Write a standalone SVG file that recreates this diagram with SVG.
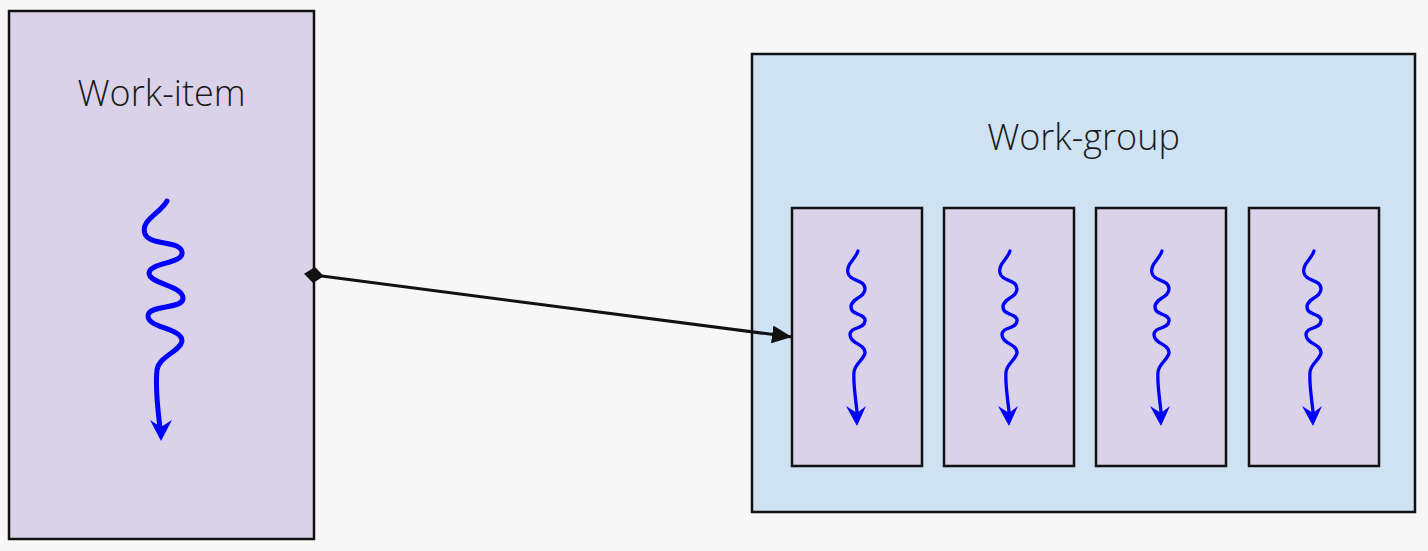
<svg xmlns="http://www.w3.org/2000/svg" width="1428" height="551" viewBox="0 0 1428 551">
<style>
.item{fill:#d9d2e9;stroke:#111;stroke-width:2.5}
.group{fill:#cfe2f3;stroke:#111;stroke-width:2.5}
.lbl{font-family:"Open Sans","Noto Sans","Liberation Sans",sans-serif;font-weight:300;font-size:36px;fill:#1a1a1a;text-anchor:middle}
.wave{fill:none;stroke:#0000ff;stroke-linecap:round;stroke-linejoin:round}
.big{stroke-width:5}
.small{stroke-width:3.3}
.conn{fill:none;stroke:#111;stroke-width:3}
</style>
<defs>
<marker id="arrowEnd" viewBox="0 0 20 18" refX="20" refY="9" markerWidth="20" markerHeight="18" markerUnits="userSpaceOnUse" orient="auto">
<path d="M0,0 L20,9 L0,18 Z" fill="#111"/>
</marker>
<marker id="diamond" viewBox="0 0 20 20" refX="10" refY="10" markerWidth="20" markerHeight="20" markerUnits="userSpaceOnUse" orient="auto">
<path d="M0,10 L10,2 L20,10 L10,18 Z" fill="#111"/>
</marker>
<g id="sqBig">
<path class="wave big" d="M167,201 C160,214 140,220 145,234 C150,246 180,240 182,252 C184,264 150,262 149,273 C149,284 182,285 183,298 C184,310 148,304 148,316 C148,328 182,328 182,341 C180,352 159,356 157,370 C155,390 158,410 160,428"/>
<path d="M150,420 L161,441 L172,420 L161,427 Z" fill="#0000ff"/>
</g>
<g id="sqSmall">
<path class="wave small" d="M858,251 C855,260 846,264 848,273 C850,282 865,279 865,289 C865,298 851,298 851,307 C851,316 866,313 865,321 C864,330 850,326 850,335 C850,344 866,344 865,353 C863,361 855,363 854,372 C853,385 856,400 857,412"/>
<path d="M846,406 L857,426 L866,406 L857,413 Z" fill="#0000ff"/>
</g>
</defs>
<rect width="1428" height="551" fill="#f7f7f7"/>
<g id="work-item">
<rect class="item" x="9" y="11" width="305" height="528"/>
<text class="lbl" x="161.5" y="106">Work-item</text>
<use href="#sqBig"/>
</g>
<g id="work-group">
<rect class="group" x="752" y="54" width="663" height="458"/>
<text class="lbl" x="1083.5" y="150">Work-group</text>
</g>
<g id="wi-1">
<rect class="item" x="792" y="208" width="130" height="258"/>
<use href="#sqSmall"/>
</g>
<g id="wi-2">
<rect class="item" x="944" y="208" width="130" height="258"/>
<use href="#sqSmall" x="152"/>
</g>
<g id="wi-3">
<rect class="item" x="1096" y="208" width="130" height="258"/>
<use href="#sqSmall" x="304"/>
</g>
<g id="wi-4">
<rect class="item" x="1249" y="208" width="130" height="258"/>
<use href="#sqSmall" x="456"/>
</g>
<g id="connectors">
<line class="conn" x1="314" y1="275" x2="792" y2="337" marker-start="url(#diamond)" marker-end="url(#arrowEnd)"/>
</g>
</svg>
